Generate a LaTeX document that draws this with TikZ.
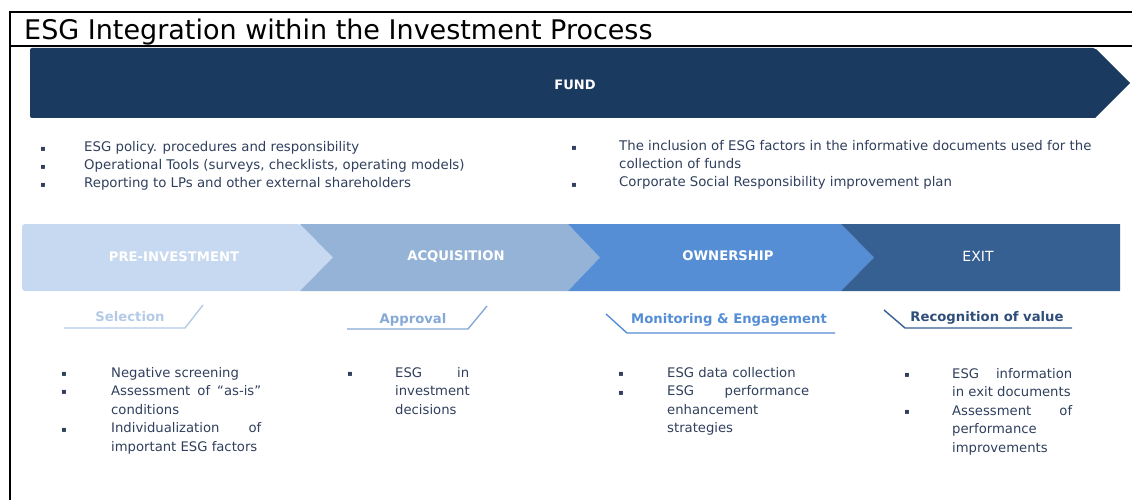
\documentclass[tikz,border=0pt]{standalone}
\usepackage{fontspec}
\setmainfont{DejaVu Sans}
\usetikzlibrary{calc}
\definecolor{fundnavy}{HTML}{1B3A5F}
\definecolor{prec}{HTML}{C6D9F0}
\definecolor{acqc}{HTML}{95B3D7}
\definecolor{ownc}{HTML}{558ED5}
\definecolor{exitc}{HTML}{376092}
\definecolor{bodytext}{HTML}{2F3F5C}
\definecolor{selc}{HTML}{B4CAE6}
\definecolor{appc}{HTML}{86A9D6}
\definecolor{recc}{HTML}{2F4E7A}
\newcommand{\jl}[2]{\makebox[#1][s]{#2}}
\tikzset{
  frame/.style={line width=1.6pt, black},
  phase/.style={font=\fontsize{13.2}{15}\selectfont\bfseries, text=white},
  body/.style={font=\fontsize{13.2}{18.6}\selectfont, text=bodytext, inner sep=0pt, anchor=base west},
  bul/.style={font=\fontsize{8}{10}\selectfont, text=bodytext, inner sep=0pt, anchor=base},
  sub/.style={font=\fontsize{13.2}{15}\selectfont\bfseries, inner sep=0pt, anchor=base},
  subline/.style={line width=1.4pt},
}
\begin{document}
\begin{tikzpicture}[x=1pt,y=-1pt]
\useasboundingbox (0,0) rectangle (1132,500);
% frame and title
\draw[frame] (10,500) -- (10,12) -- (1132,12);
\draw[frame] (10,46) -- (1132,46);
\node[anchor=base west, inner sep=0pt, font=\fontsize{27}{30}\selectfont] (title) at (24,40) {ESG Integration within the Investment Process};
% fund arrow
\fill[fundnavy, rounded corners=2pt] (30,48) -- (1095,48) [sharp corners] -- (1130,83) -- (1095,118) [rounded corners=2pt] -- (30,118) -- cycle;
\node[font=\fontsize{13}{15}\selectfont\bfseries, text=white] (fund) at (575,85) {FUND};
% fund bullets, left
\node[bul] (fb1) at (43,151) {▪};
\node[bul] (fb2) at (43,169) {▪};
\node[bul] (fb3) at (43,187) {▪};
\node[body] (ft1) at (84,151) {\parbox[t]{480pt}{\fontsize{13.3}{18.2}\selectfont ESG policy. procedures and responsibility\\Operational Tools (surveys, checklists, operating models)\\Reporting to LPs and other external shareholders}};
% fund bullets, right
\node[bul] (fb4) at (574,150) {▪};
\node[bul] (fb5) at (574,187) {▪};
\node[body] (ft2) at (619,150) {\parbox[t]{500pt}{\fontsize{13.3}{18.4}\selectfont The inclusion of ESG factors in the informative documents used for the\\collection of funds\\Corporate Social Responsibility improvement plan}};
% phase chevrons
\fill[prec, rounded corners=3pt] (300,291) -- (22,291) -- (22,224) -- (300,224) [sharp corners] -- (333,257.5) -- cycle;
\fill[acqc] (300,224) -- (568,224) -- (600,257.5) -- (568,291) -- (300,291) -- (333,257.5) -- cycle;
\fill[ownc] (568,224) -- (841,224) -- (874,257.5) -- (841,291) -- (568,291) -- (600,257.5) -- cycle;
\fill[exitc] (841,224) -- (1120,224) -- (1120,291) -- (841,291) -- (874,257.5) -- cycle;
\node[phase] (pre) at (174,257) {PRE-INVESTMENT};
\node[phase] (acq) at (456,257) {ACQUISITION};
\node[phase] (own) at (728,256) {OWNERSHIP};
\node[font=\fontsize{14}{16}\selectfont, text=white] (exit) at (978,256) {EXIT};
% stage labels with tabs
\node[sub, text=selc] (sel) at (130,321) {Selection};
\draw[subline, selc] (64,328) -- (185,328) -- (203,305);
\node[sub, text=appc] (app) at (413,323) {Approval};
\draw[subline, appc] (347,329) -- (468,329) -- (487,306);
\node[sub, text=ownc] (mon) at (729,323) {Monitoring \& Engagement};
\draw[subline, ownc] (606,314) -- (627,333) -- (835,333);
\node[sub, text=recc] (rec) at (987,321) {Recognition of value};
\draw[subline, exitc] (884,310) -- (905,328) -- (1072,328);
% stage bullets
\node[bul] (s1a) at (64,376) {▪};
\node[bul] (s1b) at (64,394) {▪};
\node[bul] (s1c) at (64,432) {▪};
\node[body] (s1) at (111,377) {\parbox[t]{150pt}{Negative screening\\\jl{150pt}{Assessment of “as-is”}\\conditions\\\jl{150pt}{Individualization of}\\important ESG factors}};
\node[bul] (s2a) at (350,376) {▪};
\node[body] (s2) at (395,377) {\parbox[t]{74pt}{\jl{74pt}{ESG in}\\investment\\decisions}};
\node[bul] (s3a) at (621,376) {▪};
\node[bul] (s3b) at (621,395) {▪};
\node[body] (s3) at (667,377) {\parbox[t]{142pt}{ESG data collection\\\jl{142pt}{ESG performance}\\enhancement\\strategies}};
\node[bul] (s4a) at (907,377) {▪};
\node[bul] (s4b) at (907,414) {▪};
\node[body] (s4) at (952,378) {\parbox[t]{120pt}{\jl{120pt}{ESG information}\\in exit documents\\\jl{120pt}{Assessment of}\\performance\\improvements}};
\end{tikzpicture}
\end{document}
